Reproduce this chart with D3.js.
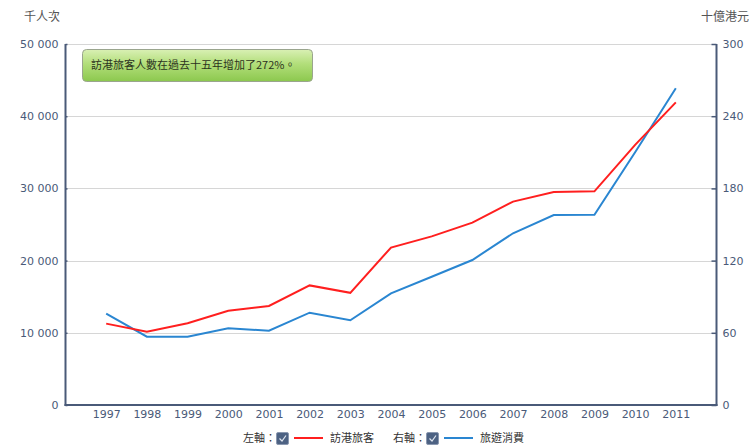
<!DOCTYPE html>
<html>
<head>
<meta charset="utf-8">
<script src="https://cdn.jsdelivr.net/npm/d3@7"></script>
<style>
  html, body { margin: 0; padding: 0; background: #fff; }
  svg { display: block; }
  text { font-family: "DejaVu Sans", Verdana, sans-serif; }
</style>
</head>
<body>
<svg id="chart" width="749" height="446"></svg>
<script>
// Visitor arrivals (thousands) and inbound tourism expenditure (HK$ billion)
const years = ["1997","1998","1999","2000","2001","2002","2003","2004","2005","2006","2007","2008","2009","2010","2011"];
const arrivals = [11273, 10160, 11328, 13059, 13725, 16566, 15537, 21811, 23359, 25251, 28169, 29507, 29591, 36030, 41921];
const spending = [75.9, 56.8, 56.8, 63.7, 61.8, 76.7, 70.4, 92.8, 106.6, 120.5, 142.7, 157.9, 158.1, 210.0, 263.2];
const leftTicks = [0, 10000, 20000, 30000, 40000, 50000];
const rightTicks = [0, 60, 120, 180, 240, 300];
const leftTitle = "千人次";
const rightTitle = "十億港元";
const note = "訪港旅客人數在過去十五年增加了272%。";
const legendItems = [
  { axis: "左軸：", name: "訪港旅客", color: "#ff1f1f" },
  { axis: "右軸：", name: "旅遊消費", color: "#2a86d1" }
];

const svg = d3.select("#chart");
const m = { left: 65.5, right: 716.5, top: 44, bottom: 405 };
const axisColor = "#4a5a78";
const labelColor = "#4a5a78";

const x = d3.scalePoint().domain(years).range([m.left, m.right]).padding(1);
const yL = d3.scaleLinear().domain([0, 50000]).range([m.bottom, m.top]);
const yR = d3.scaleLinear().domain([0, 300]).range([m.bottom, m.top]);

const fmt = v => d3.format(",")(v).replace(/,/g, " ");

// gridlines
svg.append("g").selectAll("line").data(leftTicks.slice(1)).join("line")
  .attr("x1", m.left).attr("x2", m.right)
  .attr("y1", d => Math.round(yL(d)) + 0.5).attr("y2", d => Math.round(yL(d)) + 0.5)
  .attr("stroke", "#d6d6d6").attr("stroke-width", 1);

// left axis
const gL = svg.append("g").attr("transform", `translate(${m.left},0)`)
  .call(d3.axisLeft(yL).tickValues(leftTicks).tickFormat(fmt).tickSize(4).tickPadding(3));
gL.select(".domain").remove();
gL.selectAll(".tick line").attr("stroke", axisColor).attr("stroke-width", 1.5).attr("x2", 2);
gL.selectAll(".tick text").attr("fill", labelColor).style("font-size", "11px")
  .style("font-family", "DejaVu Sans, Verdana, sans-serif");
svg.append("line").attr("x1", m.left).attr("x2", m.left).attr("y1", m.top).attr("y2", m.bottom + 1)
  .attr("stroke", axisColor).attr("stroke-width", 2);

// right axis
const gR = svg.append("g").attr("transform", `translate(${m.right},0)`)
  .call(d3.axisRight(yR).tickValues(rightTicks).tickSize(0).tickPadding(6));
gR.select(".domain").remove();
gR.selectAll(".tick line").remove();
gR.selectAll(".tick").append("line").attr("x1", -5).attr("x2", 0)
  .attr("stroke", axisColor).attr("stroke-width", 1.5);
gR.selectAll(".tick text").attr("fill", labelColor).style("font-size", "11px")
  .style("font-family", "DejaVu Sans, Verdana, sans-serif");
svg.append("line").attr("x1", m.right).attr("x2", m.right).attr("y1", m.top).attr("y2", m.bottom + 1)
  .attr("stroke", axisColor).attr("stroke-width", 2);

// bottom axis
const gB = svg.append("g").attr("transform", `translate(0,${m.bottom})`)
  .call(d3.axisBottom(x).tickSize(0).tickPadding(5));
gB.select(".domain").remove();
gB.selectAll(".tick text").attr("fill", labelColor).style("font-size", "11px")
  .style("font-family", "DejaVu Sans, Verdana, sans-serif");
svg.append("line").attr("x1", m.left - 1).attr("x2", m.right + 1).attr("y1", m.bottom).attr("y2", m.bottom)
  .attr("stroke", axisColor).attr("stroke-width", 2);

// axis titles
svg.append("text").attr("x", 24).attr("y", 21).attr("fill", "#555")
  .style("font-size", "12px").style("font-family", "Noto Sans CJK TC, sans-serif").text(leftTitle);
svg.append("text").attr("x", 749).attr("y", 21).attr("text-anchor", "end").attr("fill", "#555")
  .style("font-size", "12px").style("font-family", "Noto Sans CJK TC, sans-serif").text(rightTitle);

// series lines
const lineL = d3.line().x((d, i) => x(years[i])).y(d => yL(d));
const lineR = d3.line().x((d, i) => x(years[i])).y(d => yR(d));
svg.append("path").datum(spending).attr("d", lineR).attr("fill", "none")
  .attr("stroke", legendItems[1].color).attr("stroke-width", 2);
svg.append("path").datum(arrivals).attr("d", lineL).attr("fill", "none")
  .attr("stroke", legendItems[0].color).attr("stroke-width", 2);

// note box
const defs = svg.append("defs");
const grad = defs.append("linearGradient").attr("id", "noteFill").attr("x1", 0).attr("x2", 0).attr("y1", 0).attr("y2", 1);
grad.append("stop").attr("offset", "0%").attr("stop-color", "#d9f0b4");
grad.append("stop").attr("offset", "45%").attr("stop-color", "#b2de7a");
grad.append("stop").attr("offset", "100%").attr("stop-color", "#8cc84e");
svg.append("rect").attr("x", 82.5).attr("y", 49.5).attr("width", 230).attr("height", 32).attr("rx", 4)
  .attr("fill", "url(#noteFill)").attr("stroke", "#9aa58e").attr("stroke-width", 1);
svg.append("text").attr("x", 91).attr("y", 69).attr("fill", "#2c3320")
  .style("font-size", "11px").style("font-family", "Noto Sans CJK TC, sans-serif").text(note);

// legend
const legendX = [243, 393];
legendItems.forEach((it, i) => {
  const g = svg.append("g").attr("transform", `translate(${legendX[i]},438)`);
  g.append("text").attr("x", 0).attr("y", 4).attr("fill", "#333")
    .style("font-size", "11px").style("font-family", "Noto Sans CJK TC, sans-serif").text(it.axis);
  g.append("rect").attr("x", 33.5).attr("y", -5.5).attr("width", 12).attr("height", 12).attr("rx", 1.5)
    .attr("fill", "#4d6283").attr("stroke", "#8a98b0");
  g.append("path").attr("d", "M36.5,0.5 L39,3 L43,-2.5").attr("fill", "none")
    .attr("stroke", "#dfe6f0").attr("stroke-width", 1.2);
  g.append("line").attr("x1", 51).attr("x2", 80).attr("y1", 0).attr("y2", 0)
    .attr("stroke", it.color).attr("stroke-width", 2);
  g.append("text").attr("x", 87).attr("y", 4).attr("fill", "#333")
    .style("font-size", "11px").style("font-family", "Noto Sans CJK TC, sans-serif").text(it.name);
});
</script>
</body>
</html>
